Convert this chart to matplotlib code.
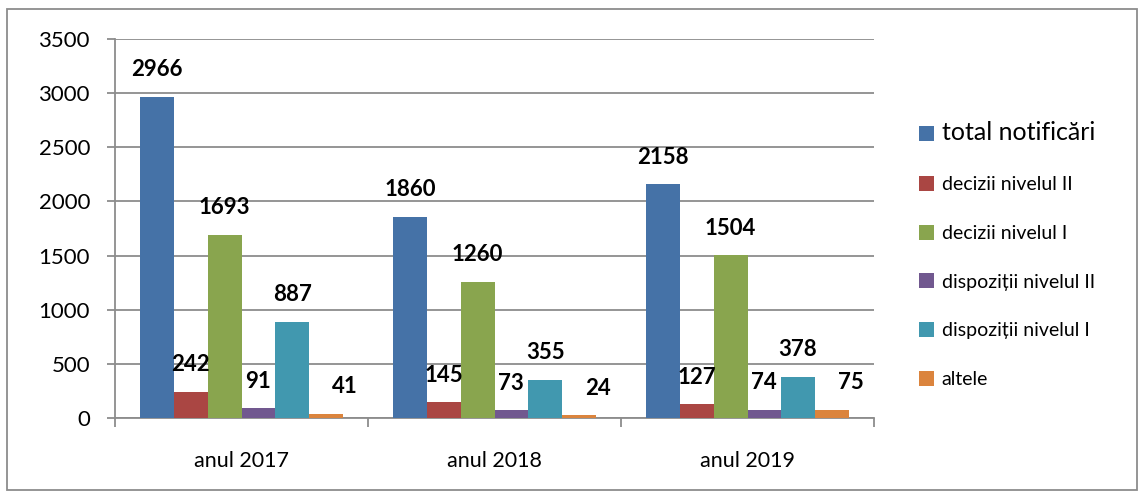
import matplotlib
matplotlib.use("Agg")
import matplotlib.pyplot as plt
from matplotlib.patches import Rectangle
import numpy as np

categories = ["anul 2017", "anul 2018", "anul 2019"]
series_names = ["total notificări", "decizii nivelul II", "decizii nivelul I",
                "dispoziții nivelul II", "dispoziții nivelul I", "altele"]
total_notificari = [2966, 1860, 2158]
decizii_II = [242, 145, 127]
decizii_I = [1693, 1260, 1504]
dispozitii_II = [91, 73, 74]
dispozitii_I = [887, 355, 378]
altele = [41, 24, 75]
series_values = [total_notificari, decizii_II, decizii_I, dispozitii_II, dispozitii_I, altele]
y_ticks = [0, 500, 1000, 1500, 2000, 2500, 3000, 3500]

colors = ["#4572A7", "#AA4643", "#89A54E", "#71588F", "#4198AF", "#DB843D"]
FONT = ["Lato", "DejaVu Sans"]
plt.rcParams["font.family"] = FONT

fig = plt.figure(figsize=(11.45, 4.97), dpi=100)
W, H = 1145, 497
ax = fig.add_axes([115 / W, 1 - 418 / H, (874 - 115) / W, (418 - 39) / H])

n = len(series_names)
gap = 1.5
bw = 1.0 / (n + gap)
x = np.arange(len(categories))
for i, (name, vals, c) in enumerate(zip(series_names, series_values, colors)):
    pos = x - 0.5 + bw * gap / 2 + bw * (i + 0.5)
    ax.bar(pos, vals, width=bw, color=c, label=name, zorder=3, linewidth=0)
    for j, (p, v) in enumerate(zip(pos, vals)):
        dx = 0
        if i == 5:
            dx = 14
        ax.annotate(str(v), (p, v), xytext=(dx, 19.5), textcoords="offset points",
                    ha="center", va="center", fontsize=16, fontweight="bold",
                    color="black", zorder=5)

ax.set_xlim(-0.5, len(categories) - 0.5)
ax.set_ylim(0, 3500)
ax.set_yticks(y_ticks)
ax.set_yticklabels([str(t) for t in y_ticks], fontsize=16)
ax.yaxis.grid(True, color="#8c8c8c", linewidth=1.3, zorder=0)
ax.set_xticks(x)
ax.set_xticklabels(categories, fontsize=15.5)
ax.tick_params(axis="x", length=0, pad=24)
ax.set_xticks(np.arange(len(categories) + 1) - 0.5, minor=True)
ax.tick_params(axis="x", which="minor", length=6.5, width=1.3, color="#8c8c8c")
ax.tick_params(axis="y", length=6, width=1.3, color="#8c8c8c", pad=12)
for s in ["top", "right"]:
    ax.spines[s].set_visible(False)
for s in ["left", "bottom"]:
    ax.spines[s].set_color("#8c8c8c")
    ax.spines[s].set_linewidth(1.3)

# outer border
fig.patches.append(Rectangle((7 / W, 1 - 490 / H), (1137 - 7) / W, (490 - 9) / H,
                             transform=fig.transFigure, fill=False,
                             edgecolor="#8c8c8c", linewidth=1.3))

handles, labels = ax.get_legend_handles_labels()
leg = fig.legend(handles, labels, loc="upper left", bbox_to_anchor=(901 / W, 1 - 104 / H),
                 frameon=False, fontsize=14, handlelength=0.8, handleheight=0.8,
                 handletextpad=0.4, labelspacing=1.62)
leg.get_texts()[0].set_fontsize(18)

fig.savefig("out.png", dpi=100)
